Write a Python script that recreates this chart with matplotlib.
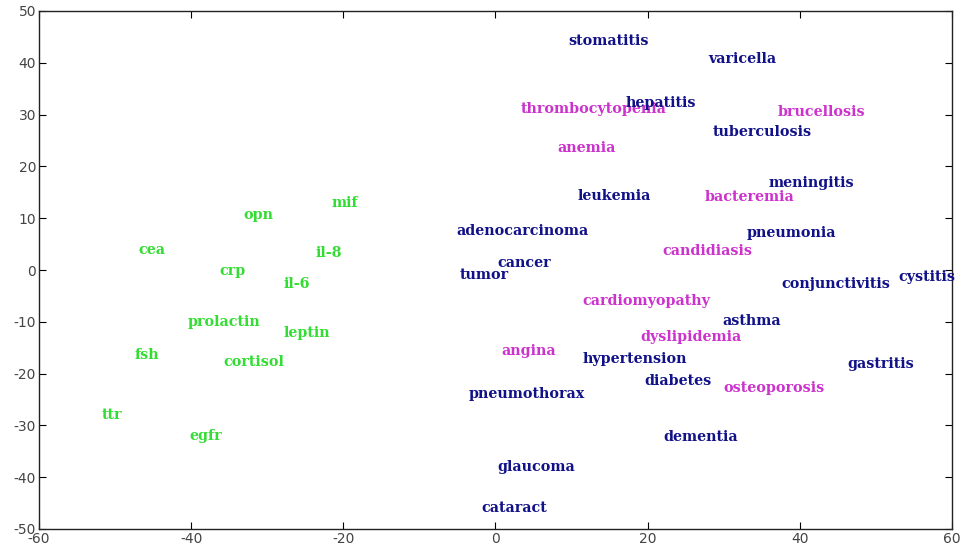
import matplotlib
matplotlib.use("Agg")
import matplotlib.pyplot as plt

plt.rcParams["axes.unicode_minus"] = False


# Green group (biomarkers)
green_labels = ["cea", "opn", "mif", "il-8", "crp", "il-6", "prolactin", "leptin",
                "fsh", "cortisol", "ttr", "egfr"]
green_x = [-47.0, -33.1, -21.6, -23.6, -36.3, -27.8, -40.4, -27.9, -47.5, -35.8, -51.7, -40.2]
green_y = [3.9, 10.6, 12.9, 3.3, -0.2, -2.7, -10.0, -12.2, -16.4, -17.8, -28.0, -32.0]

# Magenta group
magenta_labels = ["thrombocytopenia", "brucellosis", "anemia", "bacteremia", "candidiasis",
                  "cardiomyopathy", "dyslipidemia", "angina", "osteoporosis"]
magenta_x = [3.3, 37.1, 8.1, 27.5, 21.9, 11.4, 19.0, 0.8, 29.9]
magenta_y = [31.1, 30.5, 23.6, 14.1, 3.7, -6.0, -12.9, -15.6, -22.8]

# Blue group
blue_labels = ["stomatitis", "varicella", "hepatitis", "tuberculosis", "meningitis", "leukemia",
               "adenocarcinoma", "pneumonia", "cancer", "tumor", "cystitis", "conjunctivitis",
               "asthma", "hypertension", "gastritis", "diabetes", "pneumothorax", "dementia",
               "glaucoma", "cataract"]
blue_x = [9.6, 27.9, 17.1, 28.6, 35.9, 10.8, -5.1, 33.0, 0.2, -4.7, 52.9, 37.6,
          29.8, 11.4, 46.2, 19.6, -3.5, 22.1, 0.2, -1.8]
blue_y = [44.2, 40.7, 32.2, 26.6, 16.8, 14.3, 7.5, 7.1, 1.4, -1.0, -1.4, -2.7,
          -9.8, -17.2, -18.1, -21.4, -23.9, -32.2, -38.0, -45.9]

GROUPS = [
  (green_labels, green_x, green_y, "#33dd33"),
  (magenta_labels, magenta_x, magenta_y, "#cc33cc"),
  (blue_labels, blue_x, blue_y, "#111188"),
]


fig = plt.figure(figsize=(9.62, 5.52), dpi=100)
ax = fig.add_axes([39 / 962, 23 / 552, 913 / 962, 518 / 552])

for labels, xs, ys, color in GROUPS:
  for label, x, y in zip(labels, xs, ys):
    ax.text(x, y, label, color=color, ha="left", va="center",
            fontsize=10.3, fontweight="bold", family="DejaVu Serif", clip_on=False)

ax.set_xlim(-60, 60)
ax.set_ylim(-50, 50)
ax.set_xticks(range(-60, 61, 20))
ax.set_yticks(range(-50, 51, 10))
ax.tick_params(direction="in", length=5, top=True, right=True, labelsize=10,
               labelcolor="#444444", pad=2)
for spine in ax.spines.values():
  spine.set_linewidth(1.0)
  spine.set_color("#222222")

fig.savefig("out.png", dpi=100)
